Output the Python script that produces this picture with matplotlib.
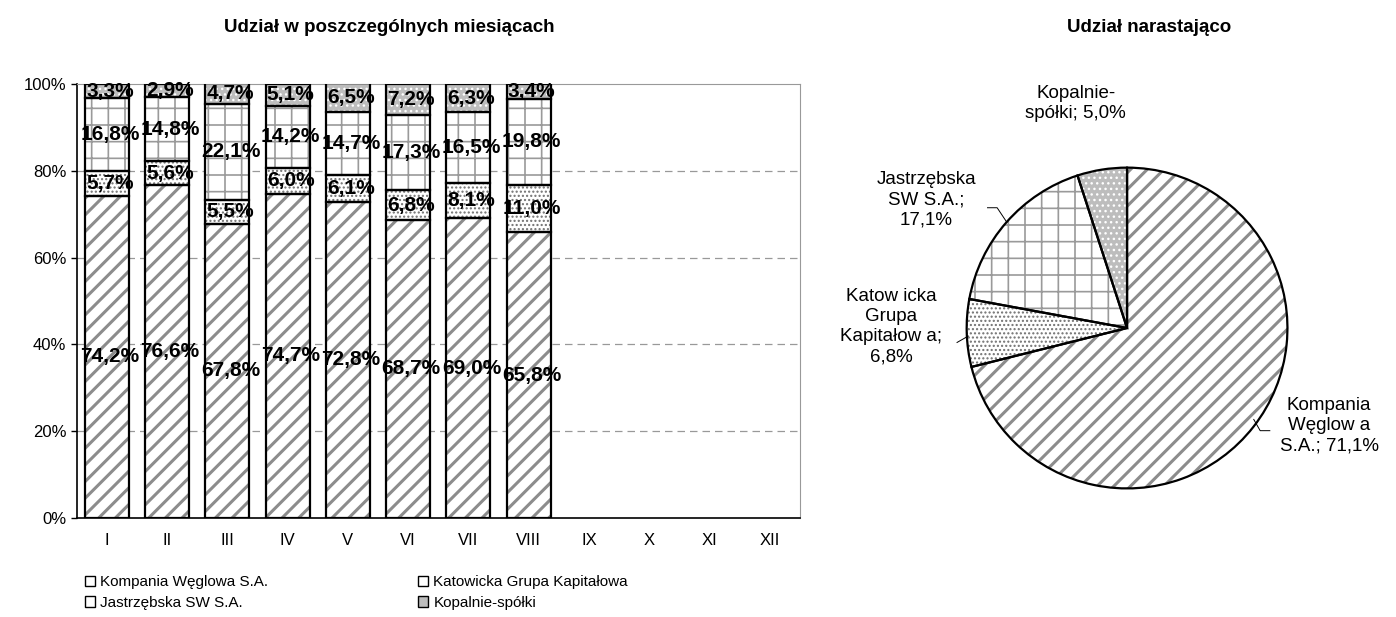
import numpy as np
import matplotlib
matplotlib.use("Agg")
import matplotlib.pyplot as plt
from matplotlib.patches import Patch

plt.rcParams['font.family'] = ['Liberation Sans', 'DejaVu Sans']
plt.rcParams['hatch.linewidth'] = 1.0

# Data
months = ['I', 'II', 'III', 'IV', 'V', 'VI', 'VII', 'VIII', 'IX', 'X', 'XI', 'XII']
series_names = ['Kompania Węglowa S.A.', 'Katowicka Grupa Kapitałowa',
                'Jastrzębska SW S.A.', 'Kopalnie-spółki']
kompania = [74.2, 76.6, 67.8, 74.7, 72.8, 68.7, 69.0, 65.8]
katowicka = [5.7, 5.6, 5.5, 6.0, 6.1, 6.8, 8.1, 11.0]
jastrzebska = [16.8, 14.8, 22.1, 14.2, 14.7, 17.3, 16.5, 19.8]
kopalnie = [3.3, 2.9, 4.7, 5.1, 6.5, 7.2, 6.3, 3.4]

pie_values = [71.1, 6.8, 17.1, 5.0]
pie_labels = ['Kompania\nWęglow a\nS.A.; 71,1%', 'Katow icka\nGrupa\nKapitałow a;\n6,8%',
              'Jastrzębska\nSW S.A.;\n17,1%', 'Kopalnie-\nspółki; 5,0%']

# styles: facecolor, hatch colour, hatch, hatch linewidth
styles = [
    ('white', '#8c8c8c', '//', 2.2),
    ('white', '#707070', '....', 1.0),
    ('white', '#9a9a9a', '+', 1.2),
    ('#bdbdbd', 'white', '...', 1.0),
]


def hatched(patch, hlw):
    if hasattr(patch, 'set_hatch_linewidth'):
        patch.set_hatch_linewidth(hlw)


fig = plt.figure(figsize=(13.96, 6.17), dpi=100)
ax = fig.add_axes([0.055, 0.1605, 0.518, 0.7035])

x = np.arange(len(kompania))
series = [kompania, katowicka, jastrzebska, kopalnie]
bottom = np.zeros(len(kompania))
width = 0.73
for vals, (fc, hc, h, hlw) in zip(series, styles):
    vals = np.array(vals)
    with plt.rc_context({'hatch.linewidth': hlw}):
        bars = ax.bar(x, vals, width, bottom=bottom, color=fc, edgecolor=hc,
                      hatch=h, linewidth=0, zorder=2)
    for b in bars:
        hatched(b, hlw)
    ax.bar(x, vals, width, bottom=bottom, fill=False, edgecolor='black',
           linewidth=1.6, zorder=3)
    for xi, b, v in zip(x, bottom, vals):
        ax.text(xi + 0.05, b + v / 2, f'{v:.1f}%'.replace('.', ','), ha='center',
                va='center', fontsize=15, fontweight='bold', zorder=4)
    bottom += vals

ax.set_xlim(-0.5, 11.5)
ax.set_ylim(0, 100)
ax.set_xticks(range(len(months)))
ax.set_xticklabels(months, fontsize=12)
ax.set_yticks(range(0, 101, 20))
ax.set_yticklabels([f'{v}%' for v in range(0, 101, 20)], fontsize=12)
ax.tick_params(axis='x', length=0, pad=11)
ax.tick_params(axis='y', length=4, width=1)
for yv in [20, 40, 60, 80]:
    ax.axhline(yv, color='#999999', linestyle=(0, (6, 4)), linewidth=0.9, zorder=1)
ax.spines['left'].set_linewidth(1.2)
ax.spines['bottom'].set_linewidth(1.2)
ax.spines['top'].set_color('#999999')
ax.spines['right'].set_color('#999999')

fig.text(0.279, 0.956, 'Udział w poszczególnych miesiącach', ha='center', va='center',
         fontsize=13.5, fontweight='bold')

handles = []
for name, (fc, hc, h, hlw) in zip(series_names, styles):
    handles.append(Patch(facecolor=fc, edgecolor='black', linewidth=1.0, label=name))
order = [0, 2, 1, 3]
fig.legend([handles[i] for i in order], [series_names[i] for i in order], ncol=2,
           loc='upper left', bbox_to_anchor=(0.061, 0.068), frameon=False,
           fontsize=11, handlelength=0.65, handleheight=0.65, handletextpad=0.35,
           columnspacing=9.8, labelspacing=0.45, borderaxespad=0, borderpad=0)

# Pie
pax = fig.add_axes([0.6913, 0.2058, 0.2321, 0.5251])
with plt.rc_context({'hatch.linewidth': 2.2}):
    wedges, _ = pax.pie(pie_values, startangle=90, counterclock=False, radius=1,
                        wedgeprops=dict(linewidth=0))
for w, (fc, hc, h, hlw) in zip(wedges, styles):
    w.set_facecolor(fc)
    w.set_edgecolor(hc)
    w.set_hatch(h)
    hatched(w, hlw)
pax.pie(pie_values, startangle=90, counterclock=False, radius=1,
        wedgeprops=dict(fill=False, edgecolor='black', linewidth=1.6))
pax.set_xlim(-1.01, 1.01)
pax.set_ylim(-1.01, 1.01)
pax.set_aspect('equal')
pax.axis('off')

label_pos = [(1.26, -0.61), (-1.47, 0.01), (-1.25, 0.80), (-0.32, 1.40)]
leaders = [
    [(0.89, -0.64), (0.83, -0.64), (0.79, -0.57)],
    [(-1.06, -0.09), (-0.99, -0.05)],
    [(-0.87, 0.75), (-0.81, 0.75), (-0.75, 0.66)],
    None,
]
for lbl, (lx, ly), ld in zip(pie_labels, label_pos, leaders):
    pax.text(lx, ly, lbl, ha='center', va='center', fontsize=13.5, linespacing=1.25,
             clip_on=False)
    if ld:
        xs, ys = zip(*ld)
        pax.plot(xs, ys, color='black', linewidth=0.7, clip_on=False)

fig.text(0.8235, 0.956, 'Udział narastająco', ha='center', va='center',
         fontsize=13.5, fontweight='bold')

fig.savefig('out.png', dpi=100)
